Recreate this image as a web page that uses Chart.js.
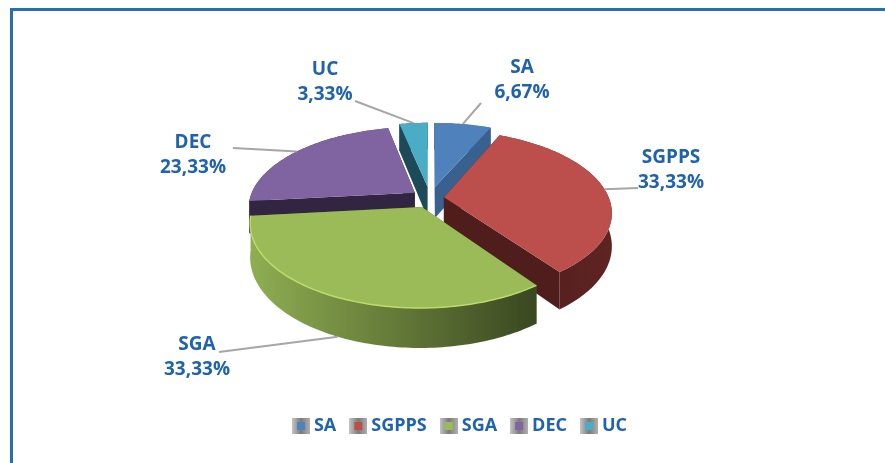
<!DOCTYPE html>
<html lang="en">
<head>
    <meta charset="UTF-8">
    <title>Distribution by unit</title>
    <script src="https://cdn.jsdelivr.net/npm/chart.js"></script>
    <style>
        html, body { margin: 0; padding: 0; background: #fff; overflow: hidden; }
        #frame {
            position: absolute; left: 10px; top: 8px; width: 875px; height: 452px;
            border-left: 3px solid #2a6db5; border-top: 3px solid #2a6db5;
            border-bottom: 1px solid #e6f0fa;
        }
        #wrap { position: absolute; left: 0; top: 0; width: 885px; height: 463px; }
        canvas { filter: blur(0.4px); }
    </style>
</head>
<body>
    <div id="frame"></div>
    <div id="wrap"><canvas id="pie" width="885" height="463"></canvas></div>

    <script>
        // Data
        const categories = ['SA', 'SGPPS', 'SGA', 'DEC', 'UC'];
        const shares = [6.67, 33.33, 33.33, 23.33, 3.33];
        const shareLabels = ['6,67%', '33,33%', '33,33%', '23,33%', '3,33%'];

        // Slice styles
        const topColors = ['#4f81bd', '#bc4e4b', '#9bbb59', '#8064a2', '#4bacc6'];
        const faceColors = ['#38618f', '#4f1d1c', '#4a5a2a', '#322542', '#1c4a58'];
        const wallLeft = ['#38618f', '#4f1d1c', '#8fae52', '#322542', '#1c4a58'];
        const wallRight = ['#38618f', '#5e2422', '#3a4720', '#322542', '#1c4a58'];
        const rimColors = [null, null, '#bcdc6a', null, null];
        const explode = [24, 14, 20, 19, 24];
        const paintOrder = [4, 0, 3, 1, 2];

        // Label text centres and where the leader line stops
        const labelCentres = [[522, 68], [671, 158], [197, 345], [193, 143], [325, 70]];
        const leaderEnds = [[481, 103], [638, 188], [219, 352], [233, 148], [355, 101]];

        const textBlue = '#1f62ae';
        const labelFont = 'bold 19px "Open Sans", sans-serif';

        // Camera: the ground plane is tilted and the near side is larger
        const view = { cx: 430, cy: 198, tilt: 0.48, persp: 0.18, depth: 32 };
        const radius = 165;

        function project(gx, gy, lift) {
            const w = 1 - view.persp * gy / radius;
            return [view.cx + gx / w, view.cy + (view.tilt * gy + view.depth * lift) / w];
        }

        function rimPoints(arc, offset, lift) {
            const mid = (arc.startAngle + arc.endAngle) / 2;
            const ox = Math.cos(mid) * offset, oy = Math.sin(mid) * offset;
            const pts = [];
            const steps = Math.max(4, Math.ceil((arc.endAngle - arc.startAngle) / 0.02));
            for (let i = 0; i <= steps; i++) {
                const a = arc.startAngle + (arc.endAngle - arc.startAngle) * i / steps;
                pts.push(project(ox + arc.outerRadius * Math.cos(a), oy + arc.outerRadius * Math.sin(a), lift));
            }
            return { pts, apex: project(ox, oy, lift) };
        }

        function fillPoly(ctx, pts, fill) {
            ctx.beginPath();
            pts.forEach((p, i) => i ? ctx.lineTo(p[0], p[1]) : ctx.moveTo(p[0], p[1]));
            ctx.closePath();
            ctx.fillStyle = fill;
            ctx.fill();
        }

        function drawSlice(ctx, arc, i) {
            const offset = explode[i];
            const top = rimPoints(arc, offset, 0);
            const low = rimPoints(arc, offset, 1);
            const last = top.pts.length - 1;

            // cut faces
            fillPoly(ctx, [top.apex, top.pts[0], low.pts[0], low.apex], faceColors[i]);
            fillPoly(ctx, [top.apex, top.pts[last], low.pts[last], low.apex], faceColors[i]);

            // outer wall
            const xs = top.pts.map(p => p[0]);
            const grad = ctx.createLinearGradient(Math.min(...xs), 0, Math.max(...xs), 0);
            grad.addColorStop(0, wallLeft[i]);
            grad.addColorStop(1, wallRight[i]);
            fillPoly(ctx, top.pts.concat(low.pts.slice().reverse()), grad);

            // top
            fillPoly(ctx, [top.apex].concat(top.pts), topColors[i]);

            if (rimColors[i]) {
                ctx.beginPath();
                top.pts.forEach((p, n) => n ? ctx.lineTo(p[0], p[1]) : ctx.moveTo(p[0], p[1]));
                ctx.strokeStyle = rimColors[i];
                ctx.lineWidth = 1.5;
                ctx.stroke();
            }
        }

        function drawLabels(ctx, arcs) {
            arcs.forEach((arc, i) => {
                const mid = (arc.startAngle + arc.endAngle) / 2;
                const ox = Math.cos(mid) * (explode[i] + arc.outerRadius);
                const oy = Math.sin(mid) * (explode[i] + arc.outerRadius);
                const start = project(ox, oy, Math.sin(mid) > 0 ? 1 : 0);
                ctx.beginPath();
                ctx.moveTo(start[0], start[1]);
                ctx.lineTo(leaderEnds[i][0], leaderEnds[i][1]);
                ctx.strokeStyle = '#a6a6a6';
                ctx.lineWidth = 2;
                ctx.stroke();

                ctx.fillStyle = textBlue;
                ctx.font = labelFont;
                ctx.textAlign = 'center';
                ctx.textBaseline = 'middle';
                ctx.fillText(categories[i], labelCentres[i][0], labelCentres[i][1]);
                ctx.fillText(shareLabels[i], labelCentres[i][0], labelCentres[i][1] + 25);
            });
        }

        // Replaces the flat pie drawing with the tilted one, using the arcs Chart.js worked out
        const tiltedPie = {
            id: 'tiltedPie',
            beforeDatasetsDraw(chart) {
                const ctx = chart.ctx;
                const arcs = chart.getDatasetMeta(0).data;
                ctx.save();
                paintOrder.forEach(i => drawSlice(ctx, arcs[i], i));
                drawLabels(ctx, arcs);
                ctx.restore();
                return false;
            }
        };

        // Small bevelled legend icons
        function legendIcon(color) {
            const c = document.createElement('canvas');
            c.width = 18;
            c.height = 18;
            const g = c.getContext('2d');
            const grad = g.createLinearGradient(0, 0, 18, 0);
            grad.addColorStop(0, '#c4c4c4');
            grad.addColorStop(0.5, '#7a7a7a');
            grad.addColorStop(1, '#b0b0b0');
            g.fillStyle = grad;
            g.fillRect(0, 1, 18, 16);
            g.fillStyle = color;
            g.fillRect(5, 5, 8, 8);
            return c;
        }
        const icons = topColors.map(legendIcon);

        new Chart(document.getElementById('pie'), {
            type: 'pie',
            data: {
                labels: categories,
                datasets: [{
                    data: shares,
                    backgroundColor: topColors,
                    offset: explode,
                    borderWidth: 0
                }]
            },
            options: {
                responsive: false,
                animation: false,
                radius: radius,
                events: [],
                layout: { padding: { left: 39, bottom: 18 } },
                plugins: {
                    tooltip: { enabled: false },
                    legend: {
                        position: 'bottom',
                        labels: {
                            usePointStyle: true,
                            pointStyleWidth: 8,
                            boxHeight: 16,
                            padding: 18,
                            color: textBlue,
                            font: { family: '"Open Sans", sans-serif', size: 18, weight: 'bold' },
                            generateLabels(chart) {
                                return Chart.overrides.pie.plugins.legend.labels.generateLabels(chart)
                                    .map((item, i) => ({ ...item, pointStyle: icons[i] }));
                            }
                        }
                    }
                }
            },
            plugins: [tiltedPie]
        });
    </script>
</body>
</html>
